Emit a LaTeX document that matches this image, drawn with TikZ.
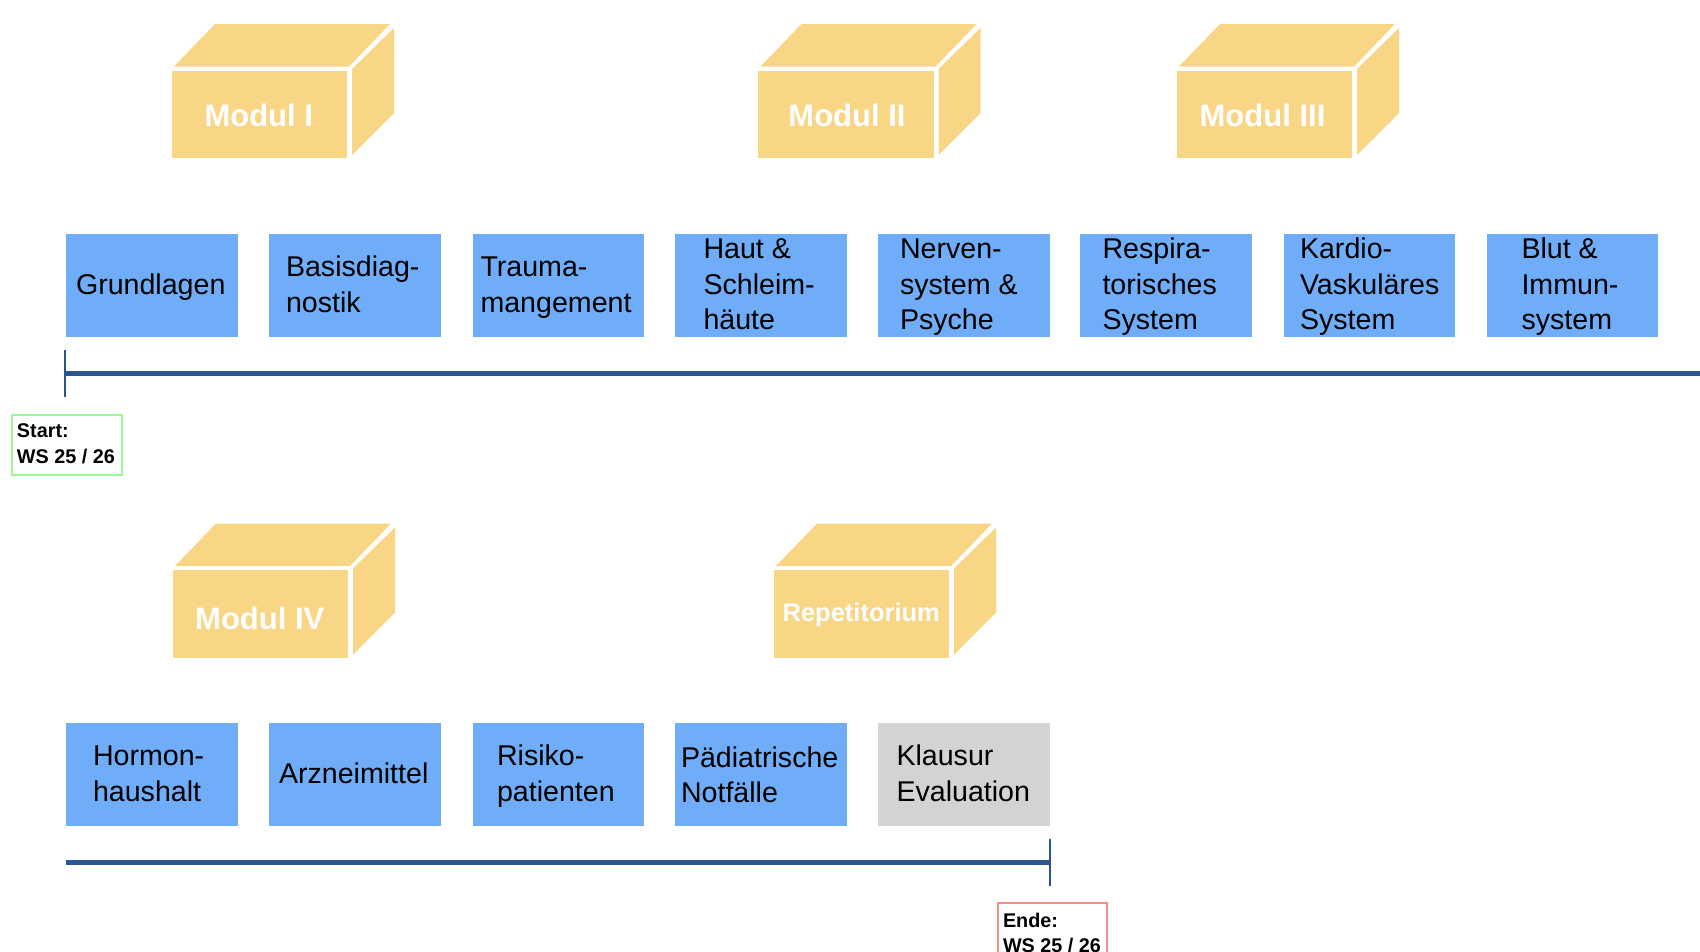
\documentclass[tikz,border=0pt]{standalone}
\usepackage{fontspec}
\setmainfont{Liberation Sans}
\definecolor{bluefill}{HTML}{70ADF8}
\definecolor{cubefill}{HTML}{F9D686}
\definecolor{greyfill}{HTML}{D3D3D3}
\definecolor{linecol}{HTML}{2A5590}
\definecolor{startcol}{HTML}{98F898}
\definecolor{endcol}{HTML}{F58C86}
\tikzset{
  topic/.style={anchor=north west,minimum width=171.5pt,minimum height=102.5pt,inner sep=0pt,outer sep=0pt,text=black,font=\fontsize{28.6}{35.5}\selectfont},
  bluetopic/.style={topic,fill=bluefill},
  greytopic/.style={topic,fill=greyfill},
  cubeface/.style={fill=cubefill,draw=none},
  cubefront/.style={cubeface,anchor=north west,minimum width=175.5pt,minimum height=87.5pt,inner sep=0pt,outer sep=0pt,text=white,font=\bfseries\fontsize{31}{36}\selectfont},
  timeline/.style={draw=linecol,line width=4.4pt},
  tick/.style={draw=linecol,line width=1.8pt},
  datebox/.style={anchor=north west,fill=white,line width=2pt,minimum height=60pt,inner sep=0pt,font=\bfseries\fontsize{19.8}{25.5}\selectfont,text=black}
}
\newcommand{\topicbox}[7][-8.3]{% [raise],style,name,x,y,pad,text
  \node[#2] (#3) at (#4,#5) {\makebox[171.5pt][l]{\hspace*{#6pt}\raisebox{#1pt}[0pt][0pt]{\begin{tabular}{@{}l@{}}#7\end{tabular}}}};}
\newcommand{\cubeshape}[6]{% name,x,y(front top),text,raise,shift
  \path[cubeface] (#2+2.5,#3-4) -- (#2+43.5,#3-46.5) -- (#2+218.5,#3-46.5) -- (#2+177.5,#3-4) -- cycle;
  \path[cubeface] (#2+180.5,#3-1.5) -- (#2+222.5,#3-42.5) -- (#2+222.5,#3+42.5) -- (#2+180.5,#3+84.5) -- cycle;
  \node[cubefront] (#1) at (#2,#3) {\hspace*{#6pt}\raisebox{#5pt}[0pt][0pt]{#4}};}
\begin{document}
\begin{tikzpicture}[x=1pt,y=-1pt]
\clip (0,0) rectangle (1700,951);
\fill[white] (0,0) rectangle (1700,951);

\cubeshape{m1}{171.5}{70.5}{Modul I}{-12.5}{-1}
\cubeshape{m2}{758}{70.5}{Modul II}{-12.5}{2.5}
\cubeshape{m3}{1176.5}{70.5}{Modul III}{-12.5}{-3.5}
\cubeshape{m4}{172.5}{570}{Modul IV}{-15.5}{-1}
\cubeshape{m5}{773.5}{570}{\fontsize{25.5}{30}\selectfont Repetitorium}{-8}{0}

\topicbox{bluetopic}{a1}{66}{234}{10}{Grundlagen}
\topicbox{bluetopic}{a2}{269}{234}{17}{Basisdiag-\\nostik}
\topicbox{bluetopic}{a3}{472.5}{234}{8}{Trauma-\\mangement}
\topicbox{bluetopic}{a4}{675}{234}{28.5}{Haut \&\\Schleim-\\häute}
\topicbox{bluetopic}{a5}{878}{234}{22}{Nerven-\\system \&\\Psyche}
\topicbox{bluetopic}{a6}{1080}{234}{22.5}{Respira-\\torisches\\System}
\topicbox{bluetopic}{a7}{1283.5}{234}{16.5}{Kardio-\\Vaskuläres\\System}
\topicbox{bluetopic}{a8}{1486.5}{234}{35}{Blut \&\\Immun-\\system}

\topicbox{bluetopic}{b1}{66}{723}{27}{Hormon-\\haushalt}
\topicbox{bluetopic}{b2}{269}{723}{10}{Arzneimittel}
\topicbox{bluetopic}{b3}{472.5}{723}{24.5}{Risiko-\\patienten}
\topicbox[-9.8]{bluetopic}{b4}{675}{723}{6}{Pädiatrische\\Notfälle}
\topicbox{greytopic}{b5}{878}{723}{18.5}{Klausur\\Evaluation}

\coordinate (t1s) at (65.5,373.5);
\coordinate (t1e) at (1700,373.5);
\coordinate (t1a) at (65,350);
\coordinate (t1b) at (65,397);
\draw[timeline] (t1s) -- (t1e);
\draw[tick] (t1a) -- (t1b);

\coordinate (t2s) at (66,862.5);
\coordinate (t2e) at (1050,862.5);
\coordinate (t2a) at (1050,839);
\coordinate (t2b) at (1050,886);
\draw[timeline] (t2s) -- (t2e);
\draw[tick] (t2a) -- (t2b);

\node[datebox,draw=startcol,minimum width=110pt] (start) at (11,414) {\makebox[110pt][l]{\hspace*{5pt}\raisebox{-5.5pt}[0pt][0pt]{\begin{tabular}{@{}l@{}}Start:\\WS 25 / 26\end{tabular}}}};
\node[datebox,draw=endcol,minimum width=109pt] (ende) at (997,902) {\makebox[109pt][l]{\hspace*{5pt}\raisebox{-7pt}[0pt][0pt]{\begin{tabular}{@{}l@{}}Ende:\\WS 25 / 26\end{tabular}}}};
\end{tikzpicture}
\end{document}
